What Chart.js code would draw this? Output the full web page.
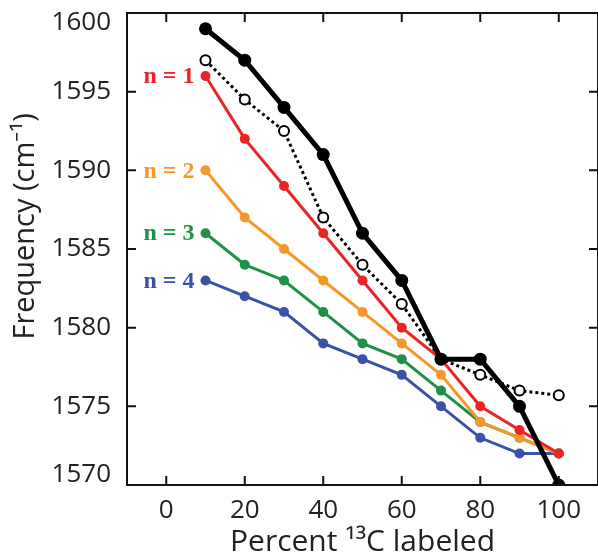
<!DOCTYPE html>
<html>
<head>
<meta charset="utf-8">
<script src="https://cdn.jsdelivr.net/npm/chart.js@4"></script>
<style>
  html, body { margin: 0; padding: 0; background: #fff; overflow: hidden; }
  #wrap { width: 598px; height: 560px; overflow: hidden; }
</style>
</head>
<body>
<div id="wrap"><canvas id="freqChart" width="605" height="560"></canvas></div>
<script>
// datos
const percentLabeled = [10, 20, 30, 40, 50, 60, 70, 80, 90, 100];
const xTicks = [0, 20, 40, 60, 80, 100];
const yTicks = [1570, 1575, 1580, 1585, 1590, 1595, 1600];

const freqBlack  = [1599, 1597, 1594, 1591, 1586, 1583, 1578, 1578, 1575, 1570];
const freqDotted = [1597, 1594.5, 1592.5, 1587, 1584, 1581.5, 1578, 1577, 1576, 1575.7];
const freqN1 = [1596, 1592, 1589, 1586, 1583, 1580, 1578, 1575, 1573.5, 1572];
const freqN2 = [1590, 1587, 1585, 1583, 1581, 1579, 1577, 1574, 1573, 1572];
const freqN3 = [1586, 1584, 1583, 1581, 1579, 1578, 1576, 1574, 1573, 1572];
const freqN4 = [1583, 1582, 1581, 1579, 1578, 1577, 1575, 1573, 1572, 1572];

const seriesNames = ['n = 1', 'n = 2', 'n = 3', 'n = 4'];
const seriesColors = ['#ec2227', '#f7972a', '#1e9148', '#3a51a8'];

function pts(ys) {
  return percentLabeled.map((x, i) => ({ x: x, y: ys[i] }));
}

const FONT = '"Open Sans", "Noto Sans", sans-serif';

const datasets = [
  {
    data: pts(freqBlack),
    borderColor: '#000', backgroundColor: '#000',
    borderWidth: 5, pointRadius: 6.5, pointBorderWidth: 0
  },
  {
    data: pts(freqDotted),
    borderColor: '#000', backgroundColor: '#fff',
    borderWidth: 3, borderDash: [3, 3],
    pointRadius: 5, pointBorderWidth: 2
  }
];
[freqN1, freqN2, freqN3, freqN4].forEach((ys, i) => {
  datasets.push({
    data: pts(ys),
    label: seriesNames[i],
    borderColor: seriesColors[i], backgroundColor: seriesColors[i],
    borderWidth: 3, pointRadius: 5, pointBorderWidth: 0
  });
});

// marco, marcas hacia dentro, etiquetas del eje y y "n = ..."
const framePlugin = {
  id: 'frame',
  afterDraw(chart) {
    const ctx = chart.ctx;
    const a = chart.chartArea;
    const xs = chart.scales.x, ys = chart.scales.y;
    ctx.save();
    ctx.strokeStyle = '#111';
    ctx.lineWidth = 2;
    ctx.strokeRect(a.left, a.top, a.right - a.left, a.bottom - a.top);
    const tl = 9;
    ctx.beginPath();
    xTicks.forEach(v => {
      const px = xs.getPixelForValue(v);
      ctx.moveTo(px, a.bottom); ctx.lineTo(px, a.bottom - tl);
      ctx.moveTo(px, a.top); ctx.lineTo(px, a.top + tl);
    });
    yTicks.forEach(v => {
      const py = ys.getPixelForValue(v);
      ctx.moveTo(a.left, py); ctx.lineTo(a.left + tl, py);
      ctx.moveTo(a.right, py); ctx.lineTo(a.right - tl, py);
    });
    ctx.stroke();

    // etiquetas del eje y (las de los extremos van un poco hacia dentro)
    ctx.fillStyle = '#222';
    ctx.font = '26px ' + FONT;
    ctx.textAlign = 'right';
    ctx.textBaseline = 'middle';
    yTicks.forEach(v => {
      let py = ys.getPixelForValue(v);
      py = Math.min(Math.max(py, a.top + 10), a.bottom - 10);
      ctx.fillText(String(v), a.left - 16, py);
    });

    // nombres de las series junto al primer punto
    ctx.font = 'bold 24px "Liberation Serif", "DejaVu Serif", serif';
    for (let i = 2; i < chart.data.datasets.length; i++) {
      const ds = chart.data.datasets[i];
      const p = chart.getDatasetMeta(i).data[0];
      ctx.fillStyle = ds.borderColor;
      ctx.fillText(ds.label, p.x - 11, p.y + 1);
    }
    ctx.restore();
  }
};

new Chart(document.getElementById('freqChart'), {
  type: 'line',
  data: { datasets: datasets },
  options: {
    responsive: false,
    animation: false,
    layout: { padding: { top: 13, right: 1, left: 0, bottom: 0 } },
    plugins: { legend: { display: false }, tooltip: { enabled: false } },
    elements: { line: { tension: 0 } },
    scales: {
      x: {
        type: 'linear', min: -10, max: 110,
        afterBuildTicks: s => { s.ticks = xTicks.map(v => ({ value: v })); },
        afterFit: s => { s.height = 75; },
        grid: { display: false, drawTicks: false },
        border: { display: false },
        ticks: { color: '#222', font: { family: FONT, size: 26 }, padding: 10, maxRotation: 0 },
        title: {
          display: true, text: 'Percent \u00b9\u00b3C labeled', color: '#222',
          font: { family: FONT, size: 30 }, padding: { top: 0, bottom: 0 }
        }
      },
      y: {
        type: 'linear', min: 1570, max: 1600,
        afterBuildTicks: s => { s.ticks = yTicks.map(v => ({ value: v })); },
        afterFit: s => { s.width = 127; },
        grid: { display: false, drawTicks: false },
        border: { display: false },
        ticks: { display: false },
        title: {
          display: true, text: '      Frequency (cm\u207b\u00b9)', color: '#222',
          font: { family: FONT, size: 29 }, padding: { top: 8, bottom: 0 }
        }
      }
    }
  },
  plugins: [framePlugin]
});
</script>
</body>
</html>
